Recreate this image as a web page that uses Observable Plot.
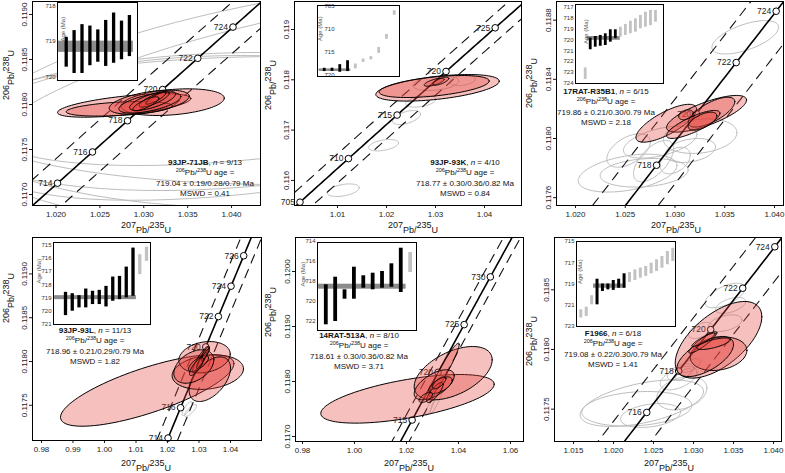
<!DOCTYPE html>
<html><head><meta charset="utf-8">
<script src="https://cdn.jsdelivr.net/npm/d3@7"></script>
<script src="https://cdn.jsdelivr.net/npm/@observablehq/plot@0.6"></script>
<style>
body{margin:0;background:#fff;font-family:"Liberation Sans",Arial,Helvetica,sans-serif;}
#root{position:relative;width:785px;height:473px;overflow:hidden;background:#fff;}
.abs{position:absolute;}
.note{position:absolute;text-align:center;font-size:8px;line-height:10.4px;white-space:nowrap;transform:translateX(-50%);color:#111;}
.note sup{font-size:5.5px;vertical-align:0;position:relative;top:-3px;}
.xt{position:absolute;font-size:9px;white-space:nowrap;transform:translate(-50%,-50%);color:#111;}
.yt{position:absolute;font-size:9px;white-space:nowrap;transform:translate(-50%,-50%) rotate(-90deg);color:#111;}
.hi{position:relative;top:-3px;}
.lo{position:relative;top:2px;}
</style></head><body><div id="root"></div>
<script>
// ---------- sample metadata ----------
const samples = ["93JP-71JB","93JP-93K","17RAT-R35B1","93JP-93L","14RAT-513A","F1966"];
const nUsed = ["9/13","4/10","6/15","11/13","8/10","6/18"];
const ageText = ["719.04 ± 0.19/0.28/0.79","718.77 ± 0.30/0.36/0.82","719.86 ± 0.21/0.30/0.79","718.96 ± 0.21/0.29/0.79","718.61 ± 0.30/0.36/0.82","719.08 ± 0.22/0.30/0.79"];
const mswd = ["0.41","0.84","2.18","1.82","3.71","1.41"];

// concordia marker ages (Ma)
const markerAges = [[714,716,718,720,722,724],[705,710,715,720,725],[718,720,722,724],[714,716,720,722,724,726],[715,720,725,730],[716,718,720,722,724]];

// error ellipses: [207Pb/235U, 206Pb/238U, sx, sy, rho]
const p1Red = [[1.02777,0.117989,0.00760,0.000130,0.6],[1.03328,0.118026,0.00589,0.000148,0.3],[1.02720,0.117952,0.00604,0.0000811,0.4],[1.03062,0.118026,0.00456,0.000133,0.5],[1.03069,0.118019,0.00353,0.000114,0.6],[1.03100,0.118041,0.00262,0.000108,0.7],[1.03119,0.118056,0.00171,0.0000856,0.8],[1.03137,0.118070,0.00114,0.0000667,0.85],[1.03023,0.118008,0.00148,0.0000778,0.8]];
const p1Grey = [[1.04331,0.117711,0.0342,0.000867,0],[1.04558,0.117822,0.0365,0.000711,0],[1.04103,0.1176,0.0319,0.000944,0],[1.05128,0.118378,0.0399,0.001056,0.55],[1.0547,0.118156,0.0433,0.00122,0.6],[1.04786,0.118711,0.0456,0.001667,0.35]];
const p2Red = [[1.03041,0.117841,0.01259,0.000264,0.5],[1.02973,0.117867,0.01122,0.000219,0.5],[1.02973,0.117952,0.00204,0.0000795,0.7],[1.03108,0.117972,0.00163,0.0000795,0.7]];
const p2Grey = [[1.02408,0.117250,0.00286,0.000139,0.5],[1.01939,0.116700,0.00306,0.000113,0.4],[1.01116,0.115805,0.00327,0.000125,0.4],[1.0270,0.117569,0.00306,0.000113,0.4],[1.03006,0.117932,0.00469,0.000145,0.3],[1.03551,0.117986,0.00265,0.0000994,0.3]];
const p3Red = [[1.02912,0.118103,0.003045,0.000128,0.75],[1.03317,0.118167,0.00402,0.000124,0.75],[1.03367,0.118178,0.00234,0.000101,0.7],[1.03109,0.118160,0.000734,0.0000338,0.3],[1.03183,0.118095,0.00268,0.0000946,0.8],[1.03276,0.118117,0.00144,0.0000608,0.6]];
const p3Grey = [[1.03706,0.118684,0.00335,0.000113,0.6],[1.02523,0.117766,0.00496,0.000128,0.4],[1.02690,0.117768,0.00442,0.0000966,0.2],[1.02851,0.117975,0.00369,0.000108,0.5],[1.03253,0.118016,0.00369,0.000117,0.2],[1.02784,0.117847,0.00201,0.00014,0.6],[1.02533,0.117919,0.00218,0.000113,0.5],[1.03002,0.117851,0.00151,0.0000899,0.4],[1.03156,0.117919,0.00251,0.0000811,0.3]];
const p4Red = [[1.01356,0.117669,0.02752,0.000408,0.75],[1.03279,0.117878,0.01133,0.000197,0.2],[1.03175,0.118049,0.00816,0.000179,0.2],[1.03343,0.117798,0.00657,0.000255,0.5],[1.02835,0.117943,0.00635,0.000191,0.4],[1.03048,0.118023,0.00254,0.000148,0.9],[1.03143,0.118057,0.0019,0.000114,0.9],[1.02984,0.117977,0.00317,0.0000913,0.7],[1.03079,0.118011,0.00159,0.0000913,0.9],[1.03206,0.118080,0.00127,0.0000685,0.9],[1.02921,0.117943,0.00222,0.000103,0.8]];
const p4Grey = [[1.02625,0.117463,0.00159,0.00008,0.8],[1.0273,0.117441,0.0019,0.0000685,0.8]];
const p5Red = [[1.02038,0.117685,0.03335,0.000442,0.6],[1.03796,0.118151,0.015,0.000485,0.5],[1.0345,0.118213,0.00577,0.000485,0.95],[1.03065,0.11794,0.00769,0.000273,0.6],[1.03308,0.117933,0.0045,0.000151,0.6],[1.03088,0.1178,0.00319,0.000182,0.8],[1.03258,0.117976,0.00258,0.000109,0.7],[1.02742,0.117709,0.00258,0.0000909,0.6]];
const p5Grey = [[1.02923,0.117564,0.00192,0.000182,0.9],[1.03154,0.117655,0.00231,0.000218,0.9]];
const p6Red = [[1.03313,0.118081,0.00541,0.000321,0.6],[1.03313,0.117964,0.00354,0.00014,0.2],[1.03146,0.117941,0.00354,0.000168,0.6],[1.03116,0.118059,0.00175,0.0000896,0.9],[1.03125,0.118081,0.00146,0.0000561,0.9],[1.0325,0.118048,0.00209,0.0000486,0.7]];
const p6Grey = [[1.03396,0.118452,0.0025,0.000103,0.6],[1.03396,0.11822,0.00209,0.0000695,0.4],[1.02354,0.11755,0.00771,0.000195,0.5],[1.02291,0.117503,0.00688,0.000145,0.2],[1.02854,0.117634,0.00313,0.00014,0.3],[1.02813,0.11776,0.00229,0.000098,0.5],[1.02838,0.11781,0.00166,0.0000695,0.5],[1.02875,0.117791,0.001,0.00005,0.7],[1.02963,0.117866,0.00125,0.0000586,0.6],[1.03088,0.118159,0.0015,0.000067,0.5],[1.03463,0.118369,0.00188,0.000067,0.5],[1.02463,0.117447,0.00375,0.0001,0.3]];

// inset single-grain 206Pb/238U dates: [low, high, used]
const p1Bars = [[718.88,719.73,1],[718.69,719.91,1],[718.52,719.91,1],[718.56,719.69,1],[718.67,719.59,1],[718.40,719.71,1],[718.19,719.62,1],[718.42,719.52,1],[718.26,719.43,1]];
const p2Bars = [[718.42,719.13,1],[718.40,719.10,1],[717.63,719.28,1],[716.78,719.13,1],[717.5,718.55,0],[716.4,717.14,0],[715.9,716.6,0],[713.9,715.2,0],[711.07,712.13,0],[705.93,706.93,0]];
const p3Bars = [[722.59,723.66,0],[719.85,720.92,1],[719.7,720.68,1],[719.6,720.6,1],[719.45,720.53,1],[719.08,720.22,1],[719.08,719.9,1],[718.84,719.76,0],[718.6,719.6,0],[718.29,719.45,0],[718.07,719.3,0],[717.76,718.99,0],[717.46,718.84,0],[717.3,718.7,0],[717.3,718.38,0]];
const p4Bars = [[718.58,720.33,1],[718.68,720.0,1],[718.83,719.75,1],[718.33,719.75,1],[718.5,719.5,1],[718.43,719.5,1],[718.13,719.68,1],[717.43,719.25,1],[717.38,719.13,1],[716.68,719.0,1],[715.25,718.88,1],[715.75,717.25,0],[715.18,716.25,0]];
const p5Bars = [[718.33,722.33,1],[717.57,722.0,1],[718.83,719.77,1],[716.57,719.77,1],[717.43,718.67,1],[717.17,718.83,1],[717.0,718.67,1],[716.23,718.57,1],[714.67,719.1,1],[715.1,717.1,0]];
const p6Bars = [[721.43,722.2,0],[721.18,722.06,0],[720.1,720.96,0],[718.55,720.96,1],[719.0,719.7,1],[719.0,719.55,1],[718.67,719.6,1],[718.55,719.4,1],[718.04,719.4,1],[717.92,718.86,0],[717.67,718.67,0],[717.5,718.45,0],[717.35,718.29,0],[717.04,718.04,0],[716.72,717.82,0],[716.41,717.51,0],[715.94,717.19,0],[715.63,716.88,0]];
// weighted-mean bands [low, high]
const bands = [[718.99,719.31],[718.55,719.10],[719.70,720.05],[718.83,719.13],[718.27,718.77],[719.0,719.4]];
// inset tick labels
const insetTicks = [[718,719,720],[705,710,715,720],[717,718,719,720,721,722,723,724],[715,716,717,718,719,720,721],[714,716,718,720,722],[715,717,719,721,723]];

// axis ticks
const xTicks = [[1.020,1.025,1.030,1.035,1.040],[1.01,1.02,1.03,1.04],[1.020,1.025,1.030,1.035,1.040],[0.98,0.99,1.00,1.01,1.02,1.03,1.04],[0.98,1.00,1.02,1.04,1.06],[1.015,1.020,1.025,1.030,1.035,1.040]];
const yTicks = [[0.1170,0.1175,0.1180,0.1185,0.1190],[0.116,0.117,0.118,0.119],[0.1176,0.1180,0.1184,0.1188],[0.1175,0.1180,0.1185,0.1190],[0.1170,0.1180,0.1190,0.1200],[0.1175,0.1180,0.1185]];

const reds = [p1Red,p2Red,p3Red,p4Red,p5Red,p6Red];
const greys = [p1Grey,p2Grey,p3Grey,p4Grey,p5Grey,p6Grey];
const barsAll = [p1Bars,p2Bars,p3Bars,p4Bars,p5Bars,p6Bars];

// ---------- layout ----------
const panels = [
 {left:0,top:0,w:262,h:236,m:[1,2,31,32],xd:[1.01732,1.04330],yd:[0.116878,0.119144],xf:3,yf:4,tr:[708,730],xt:[146,228],yt:[9,75],note:[205,158]},
 {left:262,top:0,w:262,h:236,m:[1,3,31,32],xd:[1.001224,1.047551],yd:[0.115501,0.119557],xf:2,yf:3,tr:[700,730],xt:[413,228],yt:[271,85],note:[465,158]},
 {left:523,top:0,w:262,h:236,m:[1,2,31,33],xd:[1.01809,1.040905],yd:[0.117547,0.118926],xf:3,yf:4,tr:[712,730],xt:[676,228],yt:[532,83],note:[606,87]},
 {left:0,top:236,w:262,h:237,m:[1,1,33,32],xd:[0.977143,1.049841],yd:[0.117098,0.119416],xf:2,yf:4,tr:[708,732],xt:[146,466],yt:[9,298],note:[95,326]},
 {left:262,top:236,w:262,h:237,m:[1,1,32,33],xd:[0.977308,1.0650],yd:[0.116909,0.120618],xf:2,yf:4,tr:[705,740],xt:[409,466],yt:[271,312],note:[359,331]},
 {left:523,top:236,w:262,h:237,m:[1,4,32,31],xd:[1.012625,1.041],yd:[0.117229,0.118938],xf:3,yf:4,tr:[710,730],xt:[669,466],yt:[532,341],note:[613,329]}
];
const insets = [
 {left:57,top:2,w:80,h:78,yTop:717.89,yBot:720.11,first:65.7,sp:7.9,span:[-1.1,8.5],bw:3.3,inside:false,ageDx:6},
 {left:317,top:5,w:82,h:71,yTop:704.8,yBot:720.2,first:323.7,sp:7.78,span:[-0.64,3.42],bw:2.8,inside:true,ageDx:3},
 {left:575,top:4,w:88,h:79,yTop:716.75,yBot:724.03,first:584.7,sp:5.02,span:[0.4,7.0],bw:2.8,inside:false,ageDx:11},
 {left:53,top:242,w:97,h:82,yTop:714.83,yBot:721.0,first:65,sp:6.75,span:[-1.7,10.5],bw:3.3,inside:false,ageDx:-14},
 {left:317,top:242,w:99,h:88,yTop:714.1,yBot:722.9,first:325.3,sp:9.37,span:[-0.89,8.57],bw:3.8,inside:false,ageDx:-14},
 {left:576,top:241,w:99,h:85,yTop:715,yBot:723,first:580.3,sp:5.41,span:[2.35,8.2],bw:3,inside:false,ageDx:4}
];

// ---------- helpers ----------
const L238 = 1.55125e-10, L235 = 9.8485e-10;
const r68 = t => Math.exp(L238 * t * 1e6) - 1;
const r75 = t => Math.exp(L235 * t * 1e6) - 1;
const BAND = 0.0033; // decay-constant envelope half-width in 207Pb/235U
function ellipsePts(list) {
  const out = [];
  list.forEach(([cx, cy, sx, sy, rho], i) => {
    const k = Math.sqrt(1 - rho * rho);
    for (let j = 0; j <= 96; j++) {
      const a = j / 96 * 2 * Math.PI;
      out.push({id: i, x: cx + sx * Math.cos(a), y: cy + sy * (rho * Math.cos(a) + k * Math.sin(a))});
    }
  });
  return out;
}
const FONT = "'Liberation Sans', Arial, Helvetica, sans-serif";
const root = document.getElementById("root");
function place(el, left, top) {
  const d = document.createElement("div");
  d.className = "abs"; d.style.left = left + "px"; d.style.top = top + "px";
  d.appendChild(el); root.appendChild(d); return d;
}

panels.forEach((p, k) => {
  const conc = d3.range(p.tr[0], p.tr[1] + 1e-9, 0.25).map(t => ({t, x: r75(t), y: r68(t)}));
  const mk = markerAges[k].map(t => ({t, x: r75(t), y: r68(t)}));
  const svg = Plot.plot({
    width: p.w, height: p.h,
    marginTop: p.m[0], marginRight: p.m[1], marginBottom: p.m[2], marginLeft: p.m[3],
    style: {fontFamily: FONT, fontSize: "8px", background: "transparent", color: "#1a1a1a", overflow: "visible"},
    x: {domain: p.xd, ticks: xTicks[k], tickFormat: d3.format(`.${p.xf}f`), tickSize: 3, tickPadding: 3, label: null},
    y: {domain: p.yd, ticks: yTicks[k], tickFormat: d3.format(`.${p.yf}f`), tickSize: 3, tickPadding: 3, tickRotate: -90, label: null},
    marks: [
      Plot.line(ellipsePts(greys[k]), {x: "x", y: "y", z: "id", stroke: "#bdbdbd", strokeWidth: 1, curve: "linear-closed", clip: true}),
      Plot.line(conc, {x: d => d.x - BAND, y: "y", stroke: "#111", strokeWidth: 1.1, strokeDasharray: "9,7", clip: true}),
      Plot.line(conc, {x: d => d.x + BAND, y: "y", stroke: "#111", strokeWidth: 1.1, strokeDasharray: "9,7", clip: true}),
      Plot.line(conc, {x: "x", y: "y", stroke: "#000", strokeWidth: 1.6, clip: true}),
      Plot.dot(mk, {x: "x", y: "y", r: 3.3, fill: "white", stroke: "#000", strokeWidth: 1}),
      Plot.text(mk, {x: "x", y: "y", text: d => String(d.t), dx: -5, textAnchor: "end", fontSize: 8.5, fill: "#222"}),
      Plot.line(ellipsePts(reds[k]), {x: "x", y: "y", z: "id", fill: "#e3403a", fillOpacity: 0.33, stroke: "#000", strokeWidth: 1, curve: "linear-closed", clip: true}),
      Plot.frame({stroke: "#000", strokeWidth: 1})
    ]
  });
  place(svg, p.left, p.top);

  // axis titles
  const xt = document.createElement("div");
  xt.className = "xt"; xt.style.left = p.xt[0] + "px"; xt.style.top = p.xt[1] + "px";
  xt.innerHTML = '<span class="hi">207</span><span class="lo">Pb/</span><span class="hi">235</span><span class="lo">U</span>';
  root.appendChild(xt);
  const yt = document.createElement("div");
  yt.className = "yt"; yt.style.left = p.yt[0] + "px"; yt.style.top = p.yt[1] + "px";
  yt.innerHTML = '<span class="hi">206</span><span class="lo">Pb/</span><span class="hi">238</span><span class="lo">U</span>';
  root.appendChild(yt);

  // inset
  const c = insets[k];
  const ML = 20;
  const bars = barsAll[k].map((b, i) => ({i, lo: b[0], hi: b[1], used: b[2]}));
  const x0 = (c.left - c.first) / c.sp, x1 = (c.left + c.w - c.first) / c.sp;
  const mid = (c.yTop + c.yBot) / 2;
  const ins = Plot.plot({
    width: c.w + ML, height: c.h, marginLeft: ML, marginRight: 0, marginTop: 0, marginBottom: 0,
    style: {fontFamily: FONT, fontSize: "6px", background: "transparent", overflow: "visible"},
    x: {domain: [x0, x1], axis: null},
    y: {domain: [c.yBot, c.yTop], axis: null},
    marks: [
      Plot.frame({fill: "white"}),
      Plot.rect([bands[k]], {x1: () => c.span[0], x2: () => c.span[1], y1: d => d[0], y2: d => d[1], fill: "#8c8c8c"}),
      Plot.ruleX(bars.filter(d => !d.used), {x: "i", y1: "lo", y2: "hi", stroke: "#c2c2c2", strokeWidth: c.bw}),
      Plot.ruleX(bars.filter(d => d.used), {x: "i", y1: "lo", y2: "hi", stroke: "#000", strokeWidth: c.bw}),
      Plot.text(insetTicks[k], {frameAnchor: "left", y: d => d, text: d => String(d), dx: c.inside ? 7 : -2, textAnchor: c.inside ? "start" : "end", fontSize: 6, fill: "#333"}),
      Plot.text([mid], {frameAnchor: "left", y: d => d, text: () => "Age (Ma)", rotate: -90, dx: c.ageDx, fontSize: 6, fill: "#555"}),
      Plot.frame({stroke: "#000", strokeWidth: 1})
    ]
  });
  place(ins, c.left - ML, c.top);

  // annotation
  const n = document.createElement("div");
  n.className = "note"; n.style.left = p.note[0] + "px"; n.style.top = p.note[1] + "px";
  n.innerHTML = `<b>${samples[k]}</b>, <i>n</i> = ${nUsed[k]}<br><sup>206</sup>Pb/<sup>238</sup>U age =<br>${ageText[k]} Ma<br>MSWD = ${mswd[k]}`;
  root.appendChild(n);
});
</script></body></html>
